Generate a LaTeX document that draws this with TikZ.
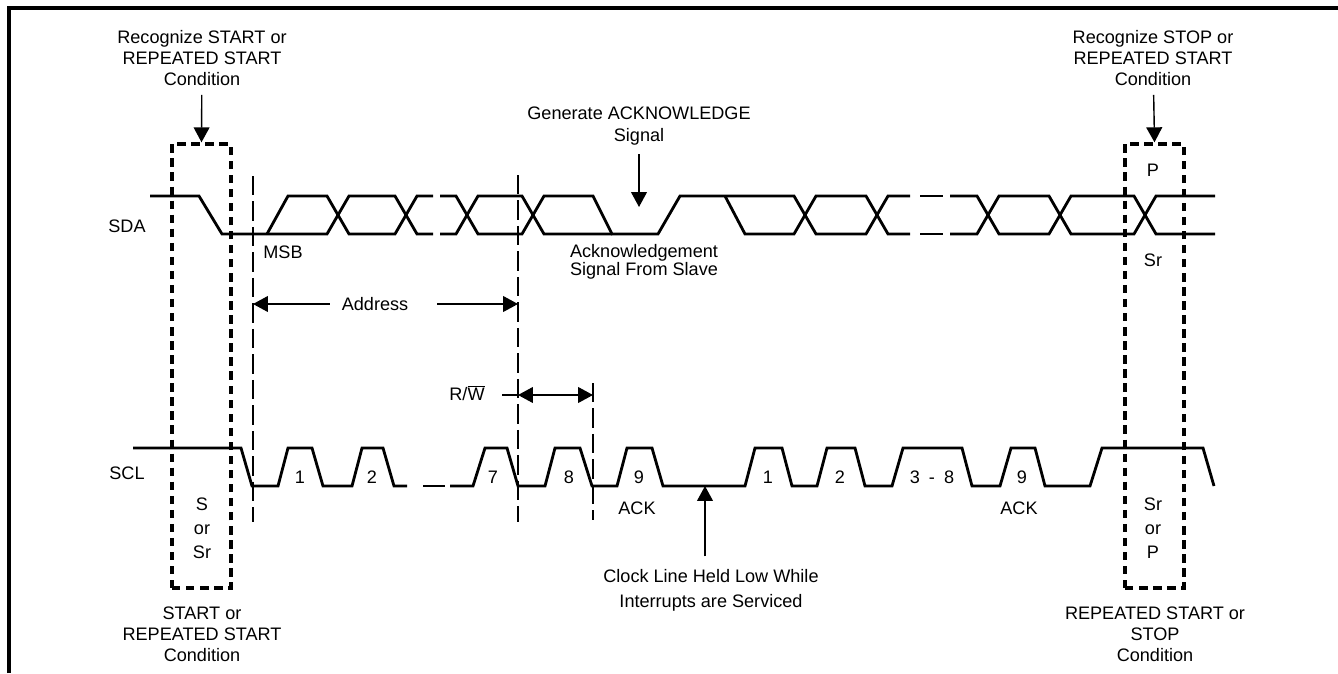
\documentclass[tikz,border=0pt]{standalone}
\usepackage{fontspec}
\setmainfont{Liberation Sans}
\usepackage{tikz}
\usetikzlibrary{arrows.meta, positioning}

\begin{document}
\begin{tikzpicture}[
        x=0.02cm, y=-0.02cm,
        wave/.style={
            line width=1.6pt,
            line join=miter
        },
        condbox/.style={
            draw,
            rectangle,
            dash pattern=on 4.8pt off 3.2pt,
            line width=2pt,
            minimum width=1.18cm,
            minimum height=8.88cm,
            inner sep=0pt
        },
        marker/.style={
            dash pattern=on 11pt off 3.5pt,
            line width=0.6pt
        },
        arrow/.style={
            -{Triangle[length=8.5pt,width=9pt]},
            line width=0.8pt
        },
        lbl/.style={
            align=center,
            font=\fontsize{10.3}{12}\selectfont,
            inner sep=2pt
        }
    ]
    \useasboundingbox (0,0) rectangle (1338,673);

    % Frame
    \draw[line width=2.2pt] (9,673) -- (9,8) -- (1338,8);

    % Condition boxes
    \node (startbox) [condbox] at (201.5,366) {};
    \node (stopbox) [condbox] at (1154.5,366) {};

    % Timing markers
    \coordinate (m1t) at (253,176);
    \coordinate (m1b) at (253,522);
    \coordinate (m2t) at (518,175);
    \coordinate (m2b) at (518,522);
    \coordinate (m3t) at (593,383);
    \coordinate (m3b) at (593,520);
    \draw[marker] (m1t) -- (m1b);
    \draw[marker] (m2t) -- (m2b);
    \draw[marker] (m3t) -- (m3b);

    % Signal names
    \node (sda) [lbl] at (127,226) {SDA};
    \node (scl) [lbl] at (127,473) {SCL};

    % SDA
    \draw[wave] (150,196) -- (199,196) -- (222,234) -- (327,234) -- (349,196) -- (395,196) -- (417,234) -- (433,234);
    \draw[wave] (267,234) -- (288,196) -- (327,196) -- (349,234) -- (395,234) -- (417,196) -- (433,196);
    \draw[wave] (440,196) -- (456,196) -- (478,234) -- (522,234) -- (544,196) -- (593,196) -- (612,234) -- (658,234) -- (680,196) -- (794,196) -- (816,234) -- (866,234) -- (888,196) -- (910,196);
    \draw[wave] (440,234) -- (456,234) -- (478,196) -- (522,196) -- (544,234) -- (612,234);
    \draw[wave] (725,196) -- (745,234) -- (794,234) -- (816,196) -- (866,196) -- (888,234) -- (910,234);
    \draw[wave] (920,196) -- (943,196);
    \draw[wave] (920,234) -- (943,234);
    \draw[wave] (950,196) -- (977,196) -- (999,234) -- (1049,234) -- (1071,196) -- (1134,196) -- (1156,234) -- (1215,234);
    \draw[wave] (950,234) -- (977,234) -- (999,196) -- (1049,196) -- (1071,234) -- (1134,234) -- (1156,196) -- (1215,196);

    % SCL
    \draw[wave] (133,448) -- (241,448) -- (252,486) -- (278,486) -- (288,448) -- (312,448) -- (323,486) -- (352,486) -- (362,448) -- (383,448) -- (394,486) -- (407,486);
    \draw[wave] (423,486) -- (445,486);
    \draw[wave] (450,486) -- (473,486) -- (485,448) -- (507,448) -- (518,486) -- (545,486) -- (555,448) -- (580,448) -- (592,486) -- (617,486) -- (627,448) -- (652,448) -- (663,486) -- (745,486) -- (755,448) -- (782,448) -- (792,486) -- (817,486) -- (827,448) -- (855,448) -- (865,486) -- (892,486) -- (903,448) -- (962,448) -- (972,486) -- (1000,486) -- (1011,448) -- (1035,448) -- (1045,486) -- (1090,486) -- (1102,448) -- (1203,448) -- (1214,486);

    % Clock pulse numbers
    \node (c1) [lbl] at (300,477) {1};
    \node (c2) [lbl] at (372,477) {2};
    \node (c7) [lbl] at (493,477) {7};
    \node (c8) [lbl] at (569,477) {8};
    \node (c9) [lbl] at (639,477) {9};
    \node (d1) [lbl] at (768,477) {1};
    \node (d2) [lbl] at (840,477) {2};
    \node (d38) [lbl] at (932,477) {3\enspace-\enspace8};
    \node (d9) [lbl] at (1022,477) {9};
    \node (ack1) [lbl] at (637,508) {ACK};
    \node (ack2) [lbl] at (1019,508) {ACK};

    % Labels in the boxes
    \node (sor) [lbl] at (202,528) {S\\[1.6pt]or\\[1.6pt]Sr};
    \node (srorp) [lbl] at (1153,528) {Sr\\[1.6pt]or\\[1.6pt]P};
    \node (stopp) [lbl] at (1153,170) {P};
    \node (stopsr) [lbl] at (1153,260) {Sr};
    \node (msb) [lbl] at (283,252) {MSB};

    % Conditions
    \node (recstart) [lbl, inner ysep=5pt] at (202,58) {Recognize START or\\REPEATED START\\Condition};
    \node (recstop) [lbl, inner ysep=5pt] at (1153,58) {Recognize STOP or\\REPEATED START\\Condition};
    \node (startcond) [lbl] at (202,634) {START or\\REPEATED START\\Condition};
    \node (stopcond) [lbl] at (1155,634) {REPEATED START or\\STOP\\Condition};
    \draw[arrow] (recstart) -- (startbox.north);
    \draw[arrow] (recstop) -- (stopbox.north);

    % Acknowledge
    \node (genack) [lbl, inner ysep=5pt] at (639,126) {Generate ACKNOWLEDGE\\[0.5pt]Signal};
    \coordinate (acktip) at (639,207);
    \draw[arrow] (genack) -- (acktip);
    \node (ackslave) [lbl] at (644,262) {Acknowledgement\\[-1.4pt]Signal From Slave};

    % Address and R/W
    \node (addr) [lbl, inner xsep=6.8pt] at (375,304) {Address};
    \draw[arrow] (addr.west) -- (m1t |- addr);
    \draw[arrow] ([xshift=9.6pt]addr.east) -- (m2t |- addr);
    \node (rw) [lbl] at (467,393) {R/$\overline{\mbox{W}}$};
    \coordinate (rwL) at (518,395);
    \coordinate (rwR) at (593,395);
    \draw[line width=0.8pt] (502,395) -- (rwL);
    \draw[arrow, {Triangle[length=8.5pt,width=9pt]}-{Triangle[length=8.5pt,width=9pt]}] (rwL) -- (rwR);

    % Clock stretching
    \node (holdlow) [lbl, inner ysep=7pt] at (711,590) {Clock Line Held Low While\\[2.2pt]Interrupts are Serviced};
    \coordinate (holdtip) at (705,486);
    \draw[arrow] (holdtip |- holdlow.north) -- (holdtip);
\end{tikzpicture}
\end{document}
